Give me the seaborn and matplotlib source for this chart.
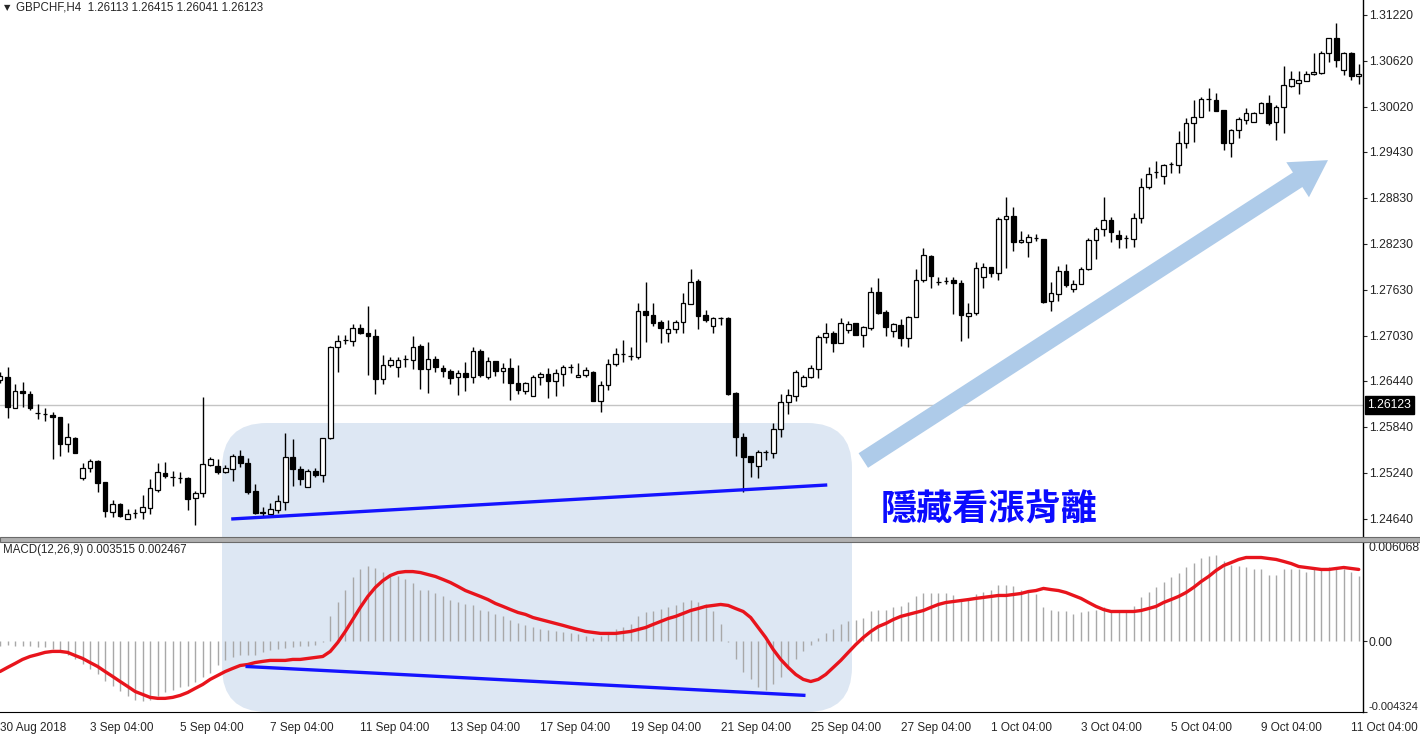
import numpy as np
import matplotlib
matplotlib.use("Agg")
import matplotlib.pyplot as plt
import seaborn as sns
from matplotlib.patches import FancyBboxPatch, Rectangle
from matplotlib.transforms import IdentityTransform, blended_transform_factory

sns.set_style("white")
plt.rcParams['font.family'] = ['Liberation Sans', 'DejaVu Sans']

W, H = 1420, 737

# ---------------- data (GBPCHF H4, 30 Aug 04:00 -> 11 Oct 08:00) ----------------
opens = [1.26451, 1.26490, 1.26086, 1.26307, 1.26268, 1.26020, 1.26007, 1.25994, 1.25968, 1.25616,
         1.25694, 1.25172, 1.25303, 1.25394, 1.25120, 1.24728, 1.24833, 1.24637, 1.24715, 1.24728,
         1.24781, 1.25016, 1.25237, 1.25185, 1.25172, 1.25172, 1.24911, 1.24976, 1.25342, 1.25329,
         1.25250, 1.25290, 1.25459, 1.25368, 1.25002, 1.24728, 1.24702, 1.24754, 1.24859, 1.25446,
         1.25290, 1.25055, 1.25263, 1.25211, 1.25694, 1.26882, 1.26973, 1.26960, 1.27130, 1.27064,
         1.27025, 1.26464, 1.26647, 1.26621, 1.26725, 1.26712, 1.26895, 1.26595, 1.26725, 1.26608,
         1.26568, 1.26490, 1.26542, 1.26490, 1.26829, 1.26490, 1.26699, 1.26568, 1.26608, 1.26412,
         1.26307, 1.26242, 1.26490, 1.26529, 1.26438, 1.26529, 1.26621, 1.26490, 1.26516, 1.26555,
         1.26177, 1.26386, 1.26660, 1.26790, 1.26764, 1.26751, 1.27352, 1.27299, 1.27208, 1.27064,
         1.27117, 1.27208, 1.27443, 1.27743, 1.27299, 1.27156, 1.27260, 1.27260, 1.26281, 1.25707,
         1.25459, 1.25329, 1.25511, 1.25498, 1.25811, 1.26164, 1.26242, 1.26373, 1.26490, 1.26595,
         1.27012, 1.27064, 1.26934, 1.27104, 1.27195, 1.27038, 1.27130, 1.27600, 1.27339, 1.27090,
         1.27169, 1.26999, 1.27273, 1.27756, 1.28070, 1.27730, 1.27743, 1.27756, 1.27717, 1.27286,
         1.27326, 1.27796, 1.27926, 1.27848, 1.28552, 1.28591, 1.28252, 1.28252, 1.28304, 1.28291,
         1.27482, 1.27574, 1.27874, 1.27639, 1.27704, 1.27900, 1.28278, 1.28422, 1.28539, 1.28343,
         1.28304, 1.28291, 1.28565, 1.28970, 1.29165, 1.29113, 1.29270, 1.29256, 1.29544, 1.29805,
         1.29883, 1.30118, 1.30105, 1.29974, 1.29544, 1.29713, 1.29844, 1.29818, 1.29935, 1.30066,
         1.29818, 1.30014, 1.30288, 1.30327, 1.30353, 1.30444, 1.30457, 1.30718, 1.30914, 1.30496,
         1.30718, 1.30418]
highs = [1.26555, 1.26621, 1.26399, 1.26425, 1.26307, 1.26138, 1.26086, 1.26033, 1.25968, 1.25890,
         1.25707, 1.25368, 1.25420, 1.25407, 1.25120, 1.24885, 1.24846, 1.24768, 1.24768, 1.24950,
         1.25159, 1.25368, 1.25381, 1.25263, 1.25250, 1.25185, 1.25002, 1.26229, 1.25446, 1.25420,
         1.25342, 1.25485, 1.25537, 1.25433, 1.25094, 1.24794, 1.24846, 1.24950, 1.25759, 1.25680,
         1.25329, 1.25290, 1.25303, 1.25694, 1.26895, 1.27038, 1.27038, 1.27182, 1.27182, 1.27417,
         1.27117, 1.26777, 1.26751, 1.26751, 1.26777, 1.27025, 1.26921, 1.26947, 1.26764, 1.26647,
         1.26595, 1.26581, 1.26686, 1.26882, 1.26856, 1.26751, 1.26699, 1.26673, 1.26738, 1.26647,
         1.26425, 1.26516, 1.26555, 1.26608, 1.26595, 1.26647, 1.26660, 1.26673, 1.26621, 1.26568,
         1.26438, 1.26725, 1.26869, 1.26973, 1.26882, 1.27456, 1.27730, 1.27456, 1.27234, 1.27234,
         1.27234, 1.27587, 1.27900, 1.27769, 1.27365, 1.27273, 1.27273, 1.27273, 1.26294, 1.25759,
         1.25459, 1.25537, 1.25537, 1.25890, 1.26268, 1.26334, 1.26581, 1.26516, 1.26647, 1.27038,
         1.27195, 1.27090, 1.27260, 1.27221, 1.27195, 1.27156, 1.27665, 1.27783, 1.27365, 1.27195,
         1.27247, 1.27286, 1.27900, 1.28174, 1.28083, 1.27796, 1.27796, 1.27796, 1.27756, 1.27456,
         1.27991, 1.27978, 1.27926, 1.28578, 1.28839, 1.28709, 1.28396, 1.28357, 1.28357, 1.28291,
         1.27730, 1.27939, 1.27965, 1.27756, 1.27926, 1.28304, 1.28448, 1.28839, 1.28578, 1.28409,
         1.28343, 1.28630, 1.29087, 1.29230, 1.29309, 1.29270, 1.29296, 1.29700, 1.29870, 1.30105,
         1.30144, 1.30262, 1.30196, 1.29974, 1.29726, 1.29883, 1.30001, 1.29948, 1.30079, 1.30170,
         1.30040, 1.30549, 1.30483, 1.30483, 1.30483, 1.30718, 1.30744, 1.30914, 1.31110, 1.30731,
         1.30731, 1.30575]
lows = [1.26412, 1.25955, 1.26086, 1.26099, 1.26059, 1.25942, 1.25916, 1.25420, 1.25459, 1.25511,
        1.25498, 1.25146, 1.25250, 1.24989, 1.24663, 1.24663, 1.24663, 1.24637, 1.24650, 1.24637,
        1.24702, 1.24989, 1.25172, 1.25068, 1.25107, 1.24754, 1.24559, 1.24924, 1.25329, 1.25224,
        1.25237, 1.25133, 1.25316, 1.24963, 1.24702, 1.24676, 1.24702, 1.24715, 1.24754, 1.25068,
        1.25081, 1.25055, 1.25185, 1.25120, 1.25680, 1.26555, 1.26921, 1.26895, 1.27051, 1.26516,
        1.26268, 1.26399, 1.26621, 1.26490, 1.26621, 1.26595, 1.26334, 1.26281, 1.26555, 1.26490,
        1.26399, 1.26255, 1.26307, 1.26412, 1.26490, 1.26464, 1.26503, 1.26412, 1.26190, 1.26268,
        1.26268, 1.26242, 1.26386, 1.26216, 1.26242, 1.26373, 1.26542, 1.26490, 1.26490, 1.26177,
        1.26033, 1.26320, 1.26634, 1.26686, 1.26712, 1.26725, 1.26947, 1.27156, 1.26934, 1.26947,
        1.27064, 1.27064, 1.27443, 1.27117, 1.27208, 1.27064, 1.27169, 1.26255, 1.25459, 1.24989,
        1.25185, 1.25172, 1.25407, 1.25433, 1.25707, 1.26007, 1.26177, 1.26360, 1.26477, 1.26477,
        1.26934, 1.26816, 1.26934, 1.27064, 1.27038, 1.26882, 1.27104, 1.27312, 1.27025, 1.27012,
        1.26895, 1.26882, 1.27273, 1.27730, 1.27652, 1.27691, 1.27704, 1.27312, 1.26960, 1.26999,
        1.27299, 1.27652, 1.27796, 1.27756, 1.27913, 1.28135, 1.28239, 1.28057, 1.28265, 1.27456,
        1.27352, 1.27482, 1.27665, 1.27600, 1.27704, 1.27887, 1.28030, 1.28330, 1.28252, 1.28174,
        1.28174, 1.28187, 1.28500, 1.28944, 1.29087, 1.29009, 1.29152, 1.29152, 1.29479, 1.29557,
        1.29883, 1.29961, 1.29961, 1.29452, 1.29361, 1.29609, 1.29792, 1.29818, 1.29935, 1.29779,
        1.29583, 1.29674, 1.30275, 1.30183, 1.30353, 1.30431, 1.30444, 1.30601, 1.30536, 1.30431,
        1.30366, 1.30314]
closes = [1.26503, 1.26099, 1.26307, 1.26281, 1.26086, 1.26020, 1.26007, 1.25968, 1.25616, 1.25707,
          1.25498, 1.25303, 1.25394, 1.25107, 1.24741, 1.24833, 1.24676, 1.24702, 1.24715, 1.24794,
          1.25042, 1.25250, 1.25198, 1.25185, 1.25172, 1.24898, 1.24976, 1.25355, 1.25420, 1.25250,
          1.25303, 1.25459, 1.25368, 1.24989, 1.24715, 1.24715, 1.24768, 1.24872, 1.25446, 1.25290,
          1.25159, 1.25263, 1.25211, 1.25694, 1.26882, 1.26960, 1.26973, 1.27130, 1.27064, 1.27025,
          1.26464, 1.26647, 1.26712, 1.26712, 1.26725, 1.26882, 1.26595, 1.26725, 1.26621, 1.26568,
          1.26477, 1.26542, 1.26490, 1.26829, 1.26516, 1.26699, 1.26568, 1.26608, 1.26412, 1.26320,
          1.26412, 1.26490, 1.26529, 1.26438, 1.26542, 1.26621, 1.26621, 1.26516, 1.26581, 1.26177,
          1.26386, 1.26660, 1.26790, 1.26790, 1.26764, 1.27352, 1.27299, 1.27195, 1.27130, 1.27117,
          1.27208, 1.27456, 1.27730, 1.27286, 1.27234, 1.27260, 1.27260, 1.26268, 1.25707, 1.25446,
          1.25381, 1.25511, 1.25511, 1.25811, 1.26164, 1.26255, 1.26555, 1.26490, 1.26608, 1.27012,
          1.27064, 1.26934, 1.27195, 1.27182, 1.27038, 1.27143, 1.27600, 1.27326, 1.27143, 1.27182,
          1.26999, 1.27273, 1.27756, 1.28083, 1.27809, 1.27730, 1.27743, 1.27717, 1.27299, 1.27326,
          1.27913, 1.27926, 1.27848, 1.28552, 1.28591, 1.28252, 1.28278, 1.28317, 1.28304, 1.27469,
          1.27587, 1.27874, 1.27691, 1.27704, 1.27900, 1.28278, 1.28422, 1.28539, 1.28383, 1.28291,
          1.28304, 1.28565, 1.28970, 1.29139, 1.29165, 1.29256, 1.29270, 1.29544, 1.29805, 1.29883,
          1.30118, 1.30118, 1.29961, 1.29544, 1.29713, 1.29857, 1.29935, 1.29935, 1.30066, 1.29805,
          1.30014, 1.30301, 1.30379, 1.30366, 1.30444, 1.30470, 1.30718, 1.30914, 1.30627, 1.30718,
          1.30418, 1.30444]

# MACD main (histogram) and signal, in units of 1e-4
macd_main = [-2.6, -2.0, -2.6, -3.2, -3.2, -3.8, -3.8, -5.0, -6.8, -8.7,
             -11.1, -13.6, -17.2, -20.3, -24.0, -27.6, -30.7, -33.7, -35.6, -36.8,
             -36.2, -33.7, -31.3, -29.5, -28.2, -27.6, -25.2, -22.1, -19.1, -14.8,
             -11.7, -9.9, -8.7, -8.1, -8.1, -6.8, -5.6, -5.0, -4.4, -3.8,
             -3.2, -2.6, -2.0, -0.7, 15.2, 23.7, 31.6, 39.0, 43.9, 46.3,
             44.5, 42.6, 41.4, 39.6, 37.8, 35.9, 31.6, 31.6, 29.2, 27.4,
             25.5, 23.7, 22.5, 21.9, 19.4, 18.2, 16.4, 15.2, 12.7, 10.9,
             9.7, 9.0, 7.8, 6.6, 6.0, 5.4, 4.8, 4.2, 3.5, 1.7,
             3.5, 5.4, 7.2, 9.0, 10.3, 15.2, 17.6, 18.8, 20.0, 20.7,
             21.9, 23.7, 25.5, 23.7, 22.5, 18.2, 10.3, -0.7, -11.1, -18.5,
             -23.3, -28.2, -29.5, -26.4, -22.1, -17.2, -11.1, -6.2, -2.0, 2.3,
             4.8, 7.2, 10.3, 12.1, 13.3, 14.5, 18.2, 19.4, 19.4, 20.7,
             21.3, 23.7, 27.4, 29.2, 29.2, 29.2, 29.2, 28.0, 25.5, 25.5,
             28.6, 30.4, 31.6, 34.7, 34.7, 33.5, 31.6, 30.4, 28.6, 20.7,
             19.4, 18.8, 18.2, 16.4, 17.6, 18.2, 19.4, 20.7, 19.4, 18.2,
             18.2, 21.3, 26.8, 30.4, 32.9, 36.5, 39.0, 42.0, 45.1, 48.1,
             51.2, 52.4, 53.0, 48.8, 46.9, 46.3, 45.1, 43.9, 43.9, 40.8,
             40.8, 43.9, 43.9, 43.9, 42.6, 43.9, 43.9, 45.1, 45.7, 43.9,
             42.6, 39.6]
macd_signal = [-18.5, -16.0, -13.6, -11.1, -9.3, -8.1, -6.8, -6.2, -6.2, -6.8,
               -8.7, -10.5, -13.0, -15.4, -18.5, -21.5, -24.6, -27.6, -30.7, -32.5,
               -34.3, -34.9, -34.9, -34.3, -33.1, -31.3, -28.8, -26.4, -23.3, -20.9,
               -18.5, -16.6, -14.8, -14.2, -13.0, -12.3, -11.7, -11.7, -11.7, -11.1,
               -11.1, -10.5, -9.9, -9.3, -6.2, -0.7, 6.0, 13.3, 20.7, 27.4,
               32.9, 37.1, 40.2, 42.0, 42.6, 42.6, 42.0, 40.8, 39.6, 37.8,
               35.9, 33.5, 31.0, 29.2, 27.4, 25.5, 23.1, 21.3, 19.4, 17.6,
               16.4, 14.5, 13.3, 12.1, 10.9, 9.7, 8.4, 7.2, 6.0, 5.4,
               4.8, 4.8, 4.8, 5.4, 6.0, 7.2, 8.4, 10.3, 12.1, 13.9,
               15.2, 17.0, 18.8, 20.0, 21.3, 21.9, 22.5, 21.9, 20.0, 18.2,
               14.5, 8.4, 2.3, -5.0, -11.1, -16.0, -20.3, -23.3, -24.6, -23.3,
               -20.3, -16.0, -11.7, -6.8, -2.0, 2.3, 6.0, 9.0, 10.9, 13.3,
               15.2, 16.4, 17.6, 18.8, 20.7, 22.5, 23.7, 24.3, 24.9, 25.5,
               26.2, 26.8, 27.4, 28.0, 28.0, 28.6, 29.2, 30.4, 31.0, 32.3,
               31.6, 31.0, 29.8, 28.0, 26.2, 23.7, 21.3, 19.4, 18.2, 18.2,
               18.2, 18.2, 18.8, 20.0, 21.3, 23.7, 25.5, 27.4, 29.8, 32.9,
               36.5, 39.6, 43.3, 46.3, 48.1, 50.0, 51.2, 51.2, 51.2, 50.6,
               50.0, 48.8, 47.5, 45.7, 45.1, 44.5, 43.9, 43.9, 44.5, 45.1,
               44.5, 43.9]

date_ticks = [0, 12, 24, 36, 48, 60, 72, 84, 96, 108, 120, 132, 144, 156, 168, 180]
date_labels = ['30 Aug 2018', '3 Sep 04:00', '5 Sep 04:00', '7 Sep 04:00', '11 Sep 04:00',
               '13 Sep 04:00', '17 Sep 04:00', '19 Sep 04:00', '21 Sep 04:00', '25 Sep 04:00',
               '27 Sep 04:00', '1 Oct 04:00', '3 Oct 04:00', '5 Oct 04:00', '9 Oct 04:00',
               '11 Oct 04:00']
price_ticks = [1.31220, 1.30620, 1.30020, 1.29430, 1.28830, 1.28230, 1.27630,
               1.27030, 1.26440, 1.25840, 1.25240, 1.24640]
macd_ticks = [0.006068, 0.0, -0.004324]
macd_tick_labels = ['0.006068', '0.00', '-0.004324']
last_price = 1.26123
header = "GBPCHF,H4  1.26113 1.26415 1.26041 1.26123"
macd_header = "MACD(12,26,9) 0.003515 0.002467"
note = "隱藏看漲背離"

# annotation anchors (bar index, value)
price_trend = ([30.8, 110.2], [1.24637, 1.25081])
macd_trend = ([32.7, 107.3], [-0.00154, -0.00331])
arrow_from = (115.0, 1.2540)
arrow_to = (176.9, 1.2932)

# ---------------- figure ----------------
fig = plt.figure(figsize=(W / 100, H / 100), dpi=100)
fig.patch.set_facecolor('white')
ax_p = fig.add_axes([0, 1 - 537 / H, 1362.5 / W, 537 / H])
ax_m = fig.add_axes([0, 1 - 712 / H, 1362.5 / W, 170 / H])
for ax in (ax_p, ax_m):
    ax.set_facecolor('none')
    ax.set_xlim(0, 181.5)
    for s in ('left', 'top', 'bottom'):
        ax.spines[s].set_visible(False)
    ax.spines['right'].set_color('black')
    ax.spines['right'].set_linewidth(1.0)
ax_m.spines['bottom'].set_visible(True)
ax_m.spines['bottom'].set_color('black')

# light blue rounded highlight spanning both panels
shade = FancyBboxPatch((222, H - 712), 630, 289, boxstyle='round,pad=0,rounding_size=45',
                       transform=IdentityTransform(), fc='#dde7f3', ec='none', zorder=-1)
fig.add_artist(shade)

# candles
x = np.arange(len(opens))
o, hi, lo, c = map(np.array, (opens, highs, lows, closes))
ax_p.vlines(x, lo, hi, color='black', lw=1.0, zorder=2)
bull = c >= o
body_lo = np.minimum(o, c)
body_h = np.maximum(np.abs(c - o), 0.00003)
ax_p.bar(x[bull], body_h[bull], bottom=body_lo[bull], width=0.62, color='white',
         edgecolor='black', linewidth=0.9, zorder=3)
ax_p.bar(x[~bull], body_h[~bull], bottom=body_lo[~bull], width=0.62, color='black',
         edgecolor='black', linewidth=0.9, zorder=3)
ax_p.axhline(last_price, color='#c4c4c4', lw=1.0, zorder=1)
ax_p.plot(*price_trend, color='#1414ff', lw=2.4, zorder=4, solid_capstyle='butt')
ax_p.annotate('', xy=arrow_to, xytext=arrow_from,
              arrowprops=dict(arrowstyle='simple,head_length=2.6,head_width=3.0,tail_width=1.25',
                              mutation_scale=10, fc='#aecbe9', ec='none', shrinkA=0, shrinkB=0),
              zorder=1)
ax_p.text(117.3, 1.24755, note, color='#0b0bff', fontsize=26, fontweight='bold',
          family=['Noto Sans CJK TC'], va='center', ha='left')

ax_p.set_ylim(1.24402, 1.31410)
ax_p.yaxis.tick_right()
ax_p.set_yticks(price_ticks, [f'{v:.5f}' for v in price_ticks])
ax_p.set_xticks([])
ax_p.tick_params(axis='y', direction='out', length=3, width=0.8, pad=2, labelsize=8.8)

tr = blended_transform_factory(ax_p.transAxes, ax_p.transData)
ax_p.text(1.0035, last_price, '1.26123', transform=tr, color='white', fontsize=8.8,
          va='center', ha='left',
          bbox=dict(boxstyle='square,pad=0.22', fc='black', ec='black'))

# MACD panel
macd_main = np.array(macd_main) * 1e-4
macd_signal = np.array(macd_signal) * 1e-4
ax_m.vlines(x, 0, macd_main, color='#a8a8a8', lw=1.0, zorder=2)
sns.lineplot(x=x, y=macd_signal, ax=ax_m, color='#e8141c', lw=2.4, zorder=3)
ax_m.plot(*macd_trend, color='#1414ff', lw=2.4, zorder=4, solid_capstyle='butt')
ax_m.set_ylim(-0.004324, 0.006068)
ax_m.yaxis.tick_right()
ax_m.set_yticks(macd_ticks, macd_tick_labels)
ax_m.tick_params(axis='y', direction='out', length=3, width=0.8, pad=1.5, labelsize=8.8)
labs = ax_m.get_yticklabels()
labs[0].set_va('top')
labs[2].set_va('bottom')
labs[2].set_fontsize(8.0)
ax_m.set_xticks(date_ticks, date_labels)
for t in ax_m.get_xticklabels():
    t.set_ha('left')
ax_m.tick_params(axis='x', direction='out', length=3, width=0.8, pad=4, labelsize=8.5)
ax_m.set_xlabel('')
ax_m.set_ylabel('')

# panel separator
sep = Rectangle((0, H - 542), W, 5, transform=IdentityTransform(), fc='#b0b0b0',
                ec='#6a6a6a', lw=0.8, zorder=5)
fig.add_artist(sep)

fig.text(4 / W, 1 - 8 / H, '▼', fontsize=6, va='center', ha='left', family=['DejaVu Sans'])
fig.text(16 / W, 1 - 8 / H, header, fontsize=8.3, va='center', ha='left')
fig.text(3 / W, 1 - 550 / H, macd_header, fontsize=8.3, va='center', ha='left')

fig.savefig('out.png', dpi=100, facecolor='white')
